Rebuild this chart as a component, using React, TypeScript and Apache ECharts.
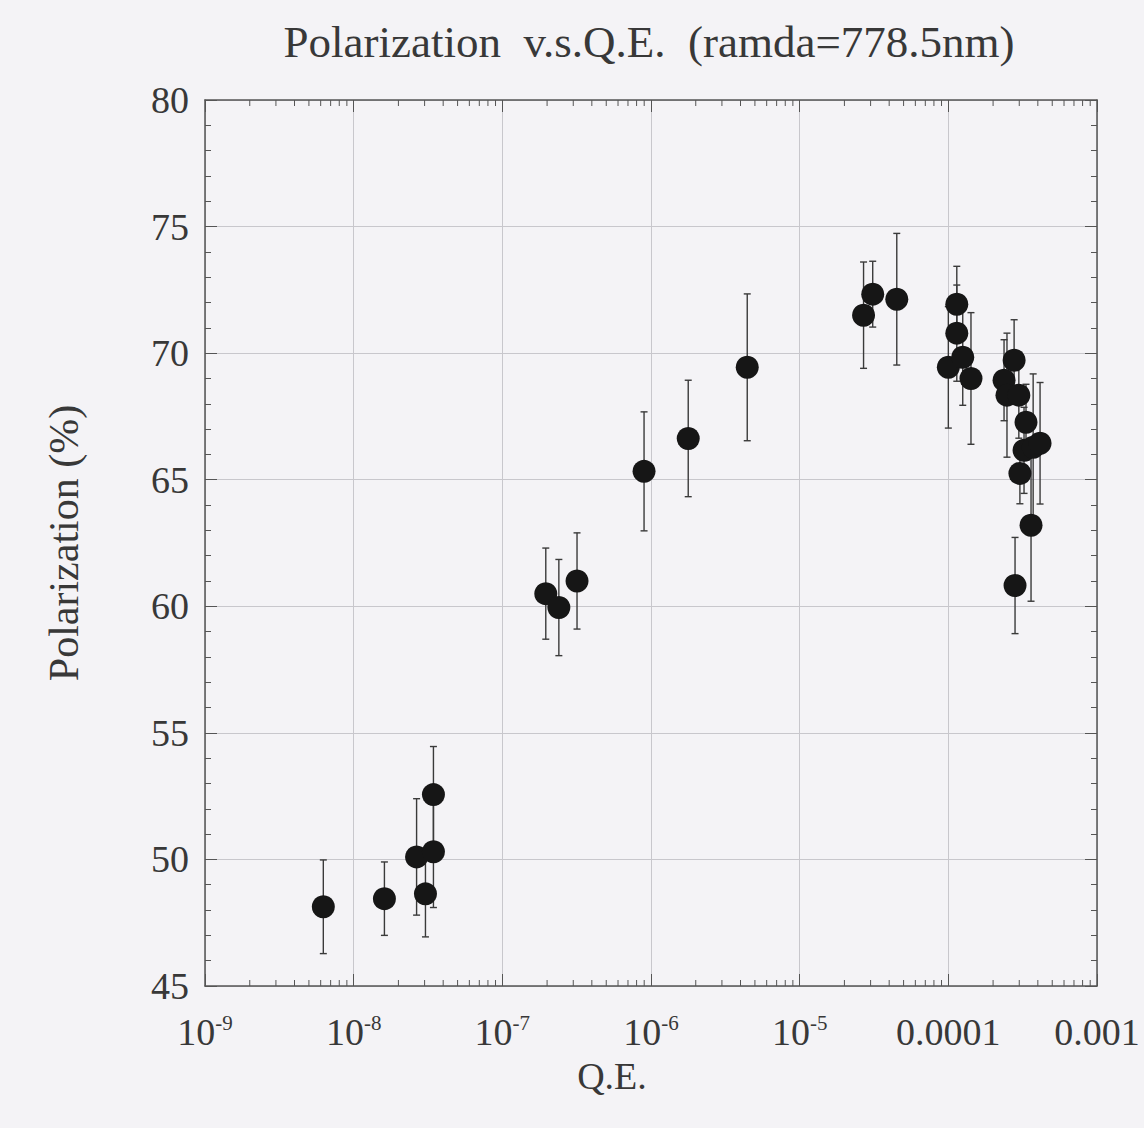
import React, { useEffect, useRef } from "react";
import * as echarts from "echarts";

// Quantum efficiency (x, log scale)
const qe = [
  6.25e-9, 1.61e-8, 2.65e-8, 3.04e-8, 3.44e-8, 3.44e-8,
  1.96e-7, 2.4e-7, 3.18e-7,
  8.98e-7, 1.78e-6, 4.44e-6,
  2.69e-5, 3.1e-5, 4.5e-5,
  1.14e-4, 1.14e-4, 1.0e-4, 1.25e-4, 1.42e-4,
  2.77e-4, 2.37e-4, 2.48e-4, 2.98e-4, 3.33e-4,
  3.23e-4, 3.72e-4, 4.14e-4, 3.03e-4, 3.6e-4, 2.81e-4,
];
// Polarization (%)
const polarization = [
  48.13, 48.45, 50.1, 48.64, 52.56, 50.3,
  60.5, 59.95, 61.0,
  65.33, 66.63, 69.44,
  71.5, 72.33, 72.13,
  71.93, 70.79, 69.44, 69.84, 69.0,
  69.72, 68.93, 68.34, 68.34, 67.27,
  66.16, 66.28, 66.44, 65.25, 63.2, 60.82,
];
// symmetric error (+/-, %)
const errorBars = [
  1.85, 1.45, 2.3, 1.7, 1.9, 2.2,
  1.8, 1.9, 1.9,
  2.35, 2.3, 2.9,
  2.1, 1.3, 2.6,
  1.5, 1.9, 2.4, 1.9, 2.6,
  1.6, 1.6, 2.45, 1.7, 1.5,
  1.7, 2.9, 2.4, 1.2, 3.0, 1.9,
];

const xMin = 1e-9;
const xMax = 1e-3;
const yMin = 45;
const yMax = 80;
const yStep = 5;
const decadeExponents = [-9, -8, -7, -6, -5, -4];
const minorMultipliers = [2, 3, 4, 5, 6, 7, 8, 9];
const titleText = "Polarization  v.s.Q.E.  (ramda=778.5nm)";

const FONT = "'Liberation Serif', 'DejaVu Serif', serif";
const TEXT = "#383838";
const AXIS = "#555555";
const BG = "#f4f3f6";

export default function App() {
  const ref = useRef<HTMLDivElement>(null);

  useEffect(() => {
    document.body.style.margin = "0";
    document.body.style.background = BG;
    const chart = echarts.init(ref.current!, null, { renderer: "svg" });

    const minorTicks: number[][] = [];
    decadeExponents.forEach((e) =>
      minorMultipliers.forEach((m) => minorTicks.push([m * Math.pow(10, e), 60]))
    );

    const errData = qe.map((x, i) => [
      x,
      polarization[i] - errorBars[i],
      polarization[i] + errorBars[i],
    ]);
    const pts = qe.map((x, i) => [x, polarization[i]]);

    const xLabel = (v: number) => {
      const e = Math.round(Math.log10(v));
      if (e === -4) return "0.0001";
      if (e === -3) return "0.001";
      return `10{sup|${e}}`;
    };

    const option: any = {
      animation: false,
      backgroundColor: BG,
      grid: { left: 205, right: 47, top: 100, bottom: 142, containLabel: false },
      graphic: [
        {
          type: "text",
          x: 649,
          y: 42,
          style: {
            text: titleText,
            font: `45px ${FONT}`,
            fill: TEXT,
            textAlign: "center",
            textVerticalAlign: "middle",
          },
        },
      ],
      xAxis: [
        {
          type: "log",
          logBase: 10,
          min: xMin,
          max: xMax,
          interval: 1,
          position: "bottom",
          name: "Q.E.",
          nameLocation: "middle",
          nameGap: 68,
          nameTextStyle: { fontFamily: FONT, fontSize: 38, color: TEXT, padding: [0, 78, 0, 0] },
          axisLine: { show: true, lineStyle: { color: AXIS, width: 1.5 } },
          axisTick: { show: true, inside: true, length: 12, lineStyle: { color: AXIS } },
          axisLabel: {
            margin: 26,
            formatter: xLabel,
            fontFamily: FONT,
            fontSize: 38,
            color: TEXT,
            lineHeight: 40,
            rich: {
              sup: {
                fontFamily: FONT,
                fontSize: 21,
                color: TEXT,
                verticalAlign: "top",
                lineHeight: 40,
                padding: [0, 0, 18, 0],
              },
            },
          },
          splitLine: { show: true, lineStyle: { color: "#c8c7cc", width: 1 } },
        },
        {
          type: "log",
          logBase: 10,
          min: xMin,
          max: xMax,
          interval: 1,
          position: "top",
          axisLine: { show: true, lineStyle: { color: AXIS, width: 1.5 } },
          axisTick: { show: true, inside: true, length: 12, lineStyle: { color: AXIS } },
          axisLabel: { show: false },
          splitLine: { show: false },
        },
      ],
      yAxis: [
        {
          type: "value",
          min: yMin,
          max: yMax,
          interval: yStep,
          position: "left",
          name: "Polarization (%)",
          nameLocation: "middle",
          nameGap: 120,
          nameTextStyle: { fontFamily: FONT, fontSize: 42, color: TEXT },
          axisLine: { show: true, lineStyle: { color: AXIS, width: 1.5 } },
          axisTick: { show: true, inside: true, length: 12, lineStyle: { color: AXIS } },
          minorTick: { show: true, splitNumber: 5, length: 6, lineStyle: { color: AXIS } },
          axisLabel: { margin: 16, fontFamily: FONT, fontSize: 38, color: TEXT },
          splitLine: { show: true, lineStyle: { color: "#c8c7cc", width: 1 } },
        },
        {
          type: "value",
          min: yMin,
          max: yMax,
          interval: yStep,
          position: "right",
          axisLine: { show: true, lineStyle: { color: AXIS, width: 1.5 } },
          axisTick: { show: true, inside: true, length: 12, lineStyle: { color: AXIS } },
          minorTick: { show: true, splitNumber: 5, length: 6, lineStyle: { color: AXIS } },
          axisLabel: { show: false },
          splitLine: { show: false },
        },
      ],
      series: [
        {
          type: "custom",
          name: "minorTicks",
          silent: true,
          xAxisIndex: 0,
          yAxisIndex: 0,
          data: minorTicks,
          encode: { x: 0, y: 1 },
          renderItem: (params: any, api: any) => {
            const cs = params.coordSys;
            const x = api.coord([api.value(0), 60])[0];
            const bottom = cs.y + cs.height;
            const st = { stroke: AXIS, lineWidth: 1 };
            return {
              type: "group",
              children: [
                { type: "line", shape: { x1: x, y1: bottom, x2: x, y2: bottom - 6 }, style: st },
                { type: "line", shape: { x1: x, y1: cs.y, x2: x, y2: cs.y + 6 }, style: st },
              ],
            };
          },
          z: 3,
        },
        {
          type: "custom",
          name: "error",
          silent: true,
          xAxisIndex: 0,
          yAxisIndex: 0,
          data: errData,
          encode: { x: 0, y: [1, 2] },
          renderItem: (params: any, api: any) => {
            const x = api.value(0);
            const top = api.coord([x, api.value(2)]);
            const bot = api.coord([x, api.value(1)]);
            const w = 3.5;
            const st = { stroke: "#3a3a3a", lineWidth: 1.4 };
            return {
              type: "group",
              children: [
                { type: "line", shape: { x1: top[0], y1: top[1], x2: bot[0], y2: bot[1] }, style: st },
                { type: "line", shape: { x1: top[0] - w, y1: top[1], x2: top[0] + w, y2: top[1] }, style: st },
                { type: "line", shape: { x1: bot[0] - w, y1: bot[1], x2: bot[0] + w, y2: bot[1] }, style: st },
              ],
            };
          },
          z: 4,
        },
        {
          type: "scatter",
          name: "Polarization",
          xAxisIndex: 0,
          yAxisIndex: 0,
          data: pts,
          symbol: "circle",
          symbolSize: 23,
          itemStyle: { color: "#161616", opacity: 1 },
          z: 5,
        },
      ],
    };

    chart.setOption(option);
    return () => chart.dispose();
  }, []);

  return <div ref={ref} style={{ width: 1144, height: 1128 }} />;
}
